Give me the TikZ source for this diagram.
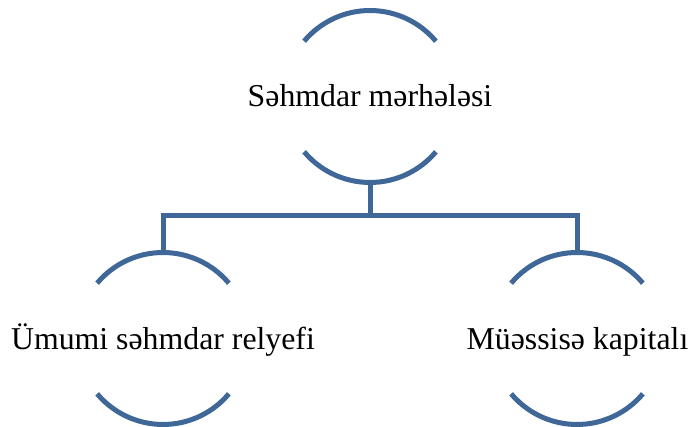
\documentclass[tikz,border=0pt]{standalone}
\usepackage{fontspec}
\setmainfont{Liberation Serif}
\definecolor{stemblue}{HTML}{3F6898}

\begin{document}
\begin{tikzpicture}[x=1pt, y=1pt,
    ring/.style={circle, minimum size=172pt, inner sep=0pt, outer sep=0pt},
    arcline/.style={stemblue, line width=5pt},
    stage/.style={anchor=base, inner sep=0pt, font=\fontsize{31.8}{38}\selectfont}]
    \useasboundingbox (0, 0) rectangle (689, 427);

    % --- Rings (only their top and bottom arcs are drawn) ---
    \node[ring] (top) at (370, 330.5) {};
    \node[ring] (left) at (163, 88.5) {};
    \node[ring] (right) at (577, 88.5) {};

    \foreach \r in {top, left, right} {
        \draw[arcline] (\r.40) arc[start angle=40, end angle=140, radius=86pt];
        \draw[arcline] (\r.220) arc[start angle=220, end angle=320, radius=86pt];
    }

    % --- Labels ---
    \node[stage] (toptext) at (370, 320) {Səhmdar mərhələsi};
    \node[stage] (lefttext) at (163, 77) {Ümumi səhmdar relyefi};
    \node[stage] (righttext) at (577.5, 77) {Müəssisə kapitalı};

    % --- Connectors ---
    \draw[arcline] (top.south) -- ++(0, -33.5) -| (left.north);
    \draw[arcline] (top.south) -- ++(0, -33.5) -| (right.north);
\end{tikzpicture}
\end{document}
